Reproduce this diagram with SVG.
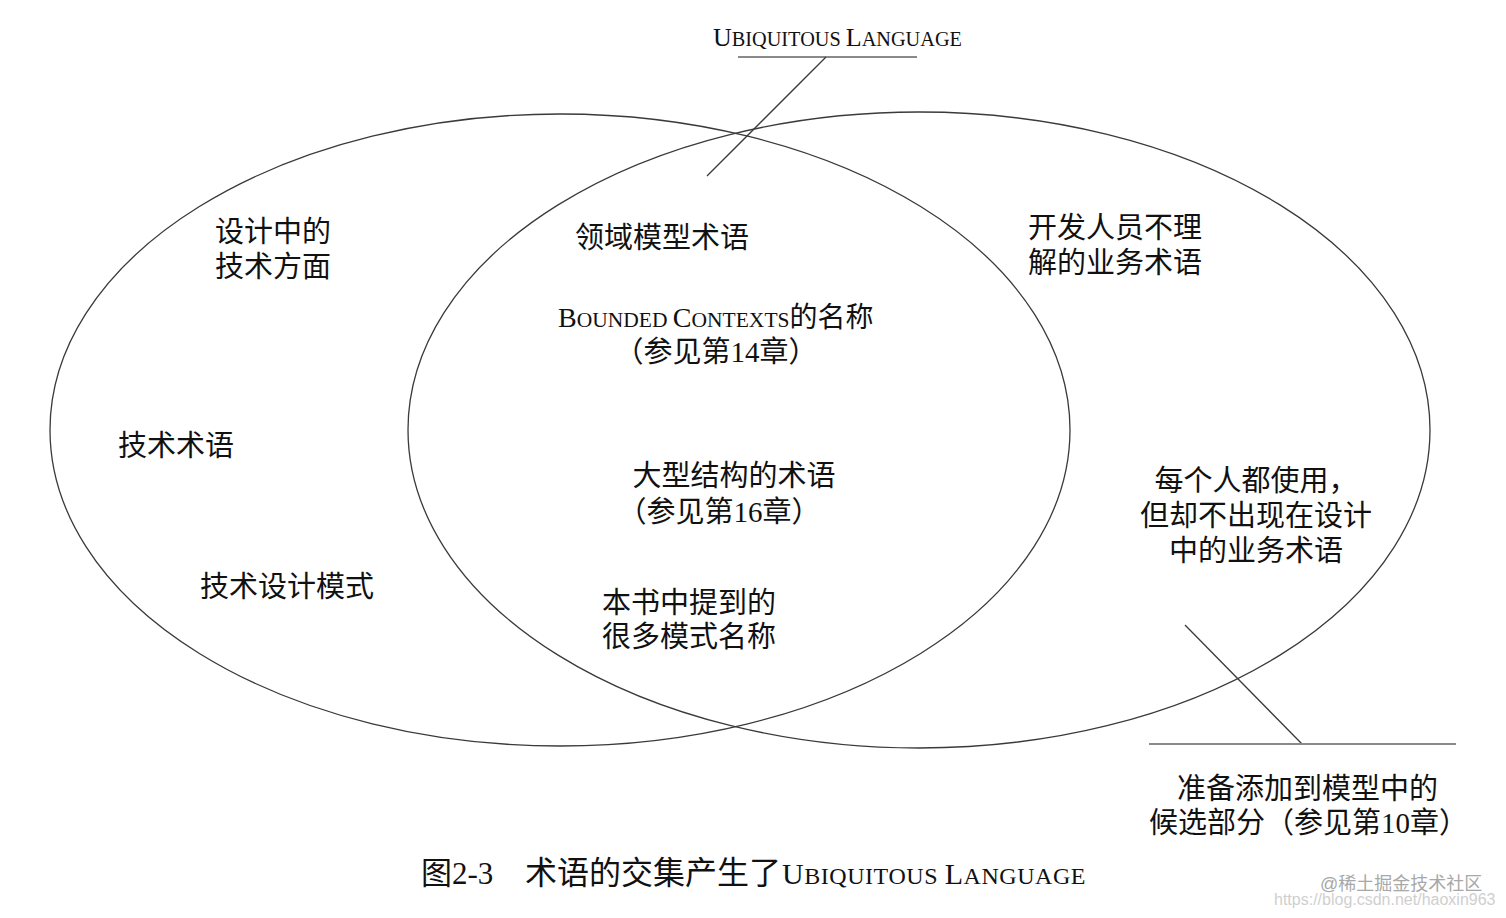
<svg xmlns="http://www.w3.org/2000/svg" width="1506" height="918" viewBox="0 0 1506 918">
<style>
  .set { fill: none; stroke: #3a3a3a; stroke-width: 1.3; }
  .conn { stroke: #3a3a3a; stroke-width: 1.3; fill: none; }
  .rule { stroke: #8a8a8a; stroke-width: 2; fill: none; }
  .t { font-family: "Liberation Serif", "Noto Sans CJK SC", serif; font-size: 29px; fill: #111; }
  .sc { font-family: "Liberation Serif", "Noto Sans CJK SC", serif; fill: #111; }
  .mid { text-anchor: middle; }
  .wm1 { font-family: "Liberation Sans", "Noto Sans CJK SC", sans-serif; font-size: 18px; fill: #a8a8a8; }
  .wm2 { font-family: "Liberation Sans", "Noto Sans CJK SC", sans-serif; font-size: 16px; fill: #cfcfcf; }
</style>
<rect width="1506" height="918" fill="#ffffff"/>

<g id="set-left"><ellipse class="set" cx="560" cy="430" rx="510" ry="316"/></g>
<g id="set-right"><ellipse class="set" cx="919" cy="430" rx="511" ry="318"/></g>

<g id="connectors">
  <line class="rule" x1="738" y1="57" x2="917" y2="57"/>
  <line class="conn" x1="826" y1="57" x2="707" y2="176"/>
  <line class="conn" x1="1185" y1="625" x2="1302" y2="744"/>
  <line class="rule" x1="1149" y1="744" x2="1456" y2="744"/>
</g>

<g id="label-ubiquitous-language">
  <text class="sc" x="713" y="46"><tspan font-size="26">U</tspan><tspan font-size="20.3">BIQUITOUS </tspan><tspan font-size="26">L</tspan><tspan font-size="20.3">ANGUAGE</tspan></text>
</g>

<g id="node-design-tech">
  <text class="t" x="215" y="242">设计中的</text>
  <text class="t" x="215" y="277">技术方面</text>
</g>
<g id="node-tech-terms"><text class="t" x="118" y="456">技术术语</text></g>
<g id="node-tech-patterns"><text class="t" x="200" y="597">技术设计模式</text></g>

<g id="node-domain-terms"><text class="t" x="575" y="248">领域模型术语</text></g>
<g id="node-bounded-contexts">
  <text class="sc" x="558" y="327"><tspan font-size="28">B</tspan><tspan font-size="21.5">OUNDED </tspan><tspan font-size="28">C</tspan><tspan font-size="21.5">ONTEXTS</tspan><tspan font-size="28">的名称</tspan></text>
  <text class="t mid" x="716" y="362" font-size="28">（参见第14章）</text>
</g>
<g id="node-large-structure">
  <text class="t mid" x="734" y="486">大型结构的术语</text>
  <text class="t mid" x="719" y="522">（参见第16章）</text>
</g>
<g id="node-pattern-names">
  <text class="t" x="602" y="613">本书中提到的</text>
  <text class="t" x="602" y="647">很多模式名称</text>
</g>

<g id="node-business-terms">
  <text class="t" x="1028" y="238">开发人员不理</text>
  <text class="t" x="1028" y="273">解的业务术语</text>
</g>
<g id="node-everyone-uses">
  <text class="t mid" x="1256" y="491">每个人都使用，</text>
  <text class="t mid" x="1256" y="526">但却不出现在设计</text>
  <text class="t mid" x="1256" y="561">中的业务术语</text>
</g>

<g id="label-candidates">
  <text class="t" x="1177" y="799">准备添加到模型中的</text>
  <text class="t" x="1149" y="833">候选部分（参见第10章）</text>
</g>

<g id="caption">
  <text class="sc" x="421" y="884" font-size="31">图<tspan font-size="31">2-3</tspan></text>
  <text class="sc" x="525" y="884" font-size="32">术语的交集产生了</text>
  <text class="sc" x="782" y="884" letter-spacing="0.55"><tspan font-size="30">U</tspan><tspan font-size="24">BIQUITOUS </tspan><tspan font-size="30">L</tspan><tspan font-size="24">ANGUAGE</tspan></text>
</g>

<g id="watermark">
  <text class="wm1" x="1320" y="890">@稀土掘金技术社区</text>
  <text class="wm2" x="1274" y="905">https://blog.csdn.net/haoxin963</text>
</g>
</svg>
